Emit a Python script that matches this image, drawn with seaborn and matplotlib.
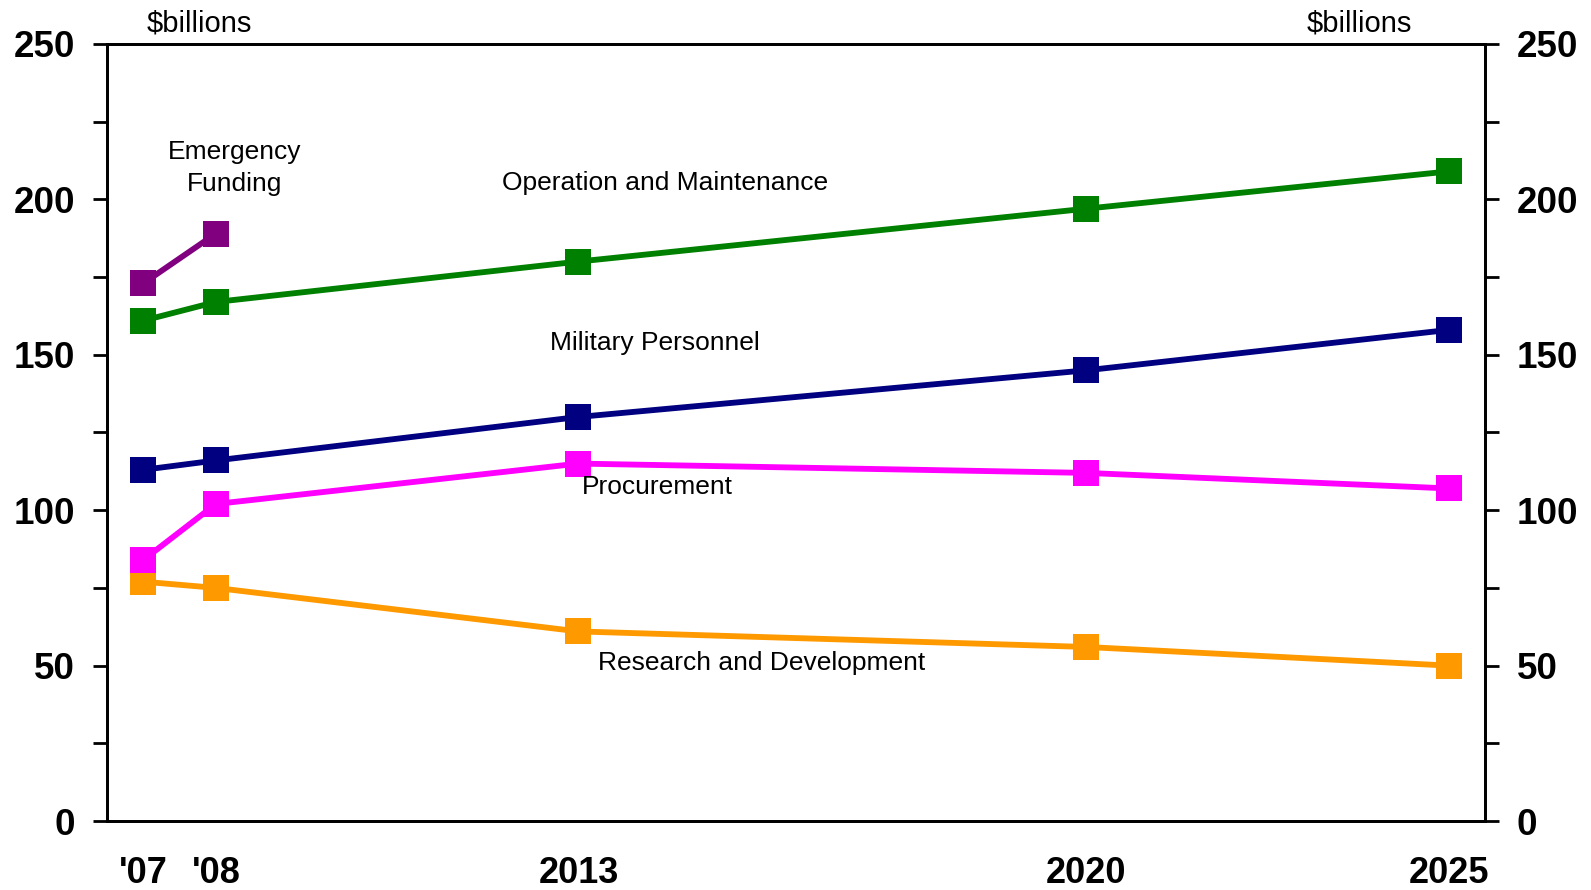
import matplotlib
matplotlib.use("Agg")
import matplotlib.pyplot as plt
import seaborn as sns
import numpy as np
from matplotlib.ticker import MultipleLocator

# Budget projections ($billions)
years = [2007, 2008, 2013, 2020, 2025]
year_labels = ["'07", "'08", "2013", "2020", "2025"]

emergency_years = [2007, 2008]
emergency = [173, 189]
operation_maintenance = [161, 167, 180, 197, 209]
military_personnel = [113, 116, 130, 145, 158]
procurement = [84, 102, 115, 112, 107]
research_development = [77, 75, 61, 56, 50]

sns.set_style("white")
plt.rcParams['font.family'] = ['Liberation Sans', 'DejaVu Sans']
plt.rcParams['text.color'] = 'black'
plt.rcParams['xtick.color'] = 'black'
plt.rcParams['ytick.color'] = 'black'

fig = plt.figure(figsize=(15.91, 8.90), dpi=100)
ax = fig.add_axes([0.0673, 0.0775, 0.8661, 0.8731])

series = [
    (years, research_development, '#FF9900'),
    (years, procurement, '#FF00FF'),
    (years, military_personnel, '#000080'),
    (years, operation_maintenance, '#008000'),
    (emergency_years, emergency, '#800080'),
]
for xs, ys, color in series:
    sns.lineplot(x=xs, y=ys, ax=ax, color=color, linewidth=4.2,
                 marker='s', markersize=18.5, markeredgewidth=0, clip_on=False)

ax.set_xlim(2006.5, 2025.5)
ax.set_ylim(0, 250)
ax.set_xticks(years)
ax.set_xticklabels(year_labels, fontsize=26, fontweight='bold')
ax.tick_params(axis='x', length=0, pad=25)
ax.yaxis.set_major_locator(MultipleLocator(50))
ax.yaxis.set_minor_locator(MultipleLocator(25))
ax.tick_params(axis='y', which='both', direction='out', length=10, width=2,
               labelsize=26.5, left=True, pad=13)
for lbl in ax.get_yticklabels():
    lbl.set_fontweight('bold')

ax2 = ax.twinx()
ax2.set_ylim(0, 250)
ax2.yaxis.set_major_locator(MultipleLocator(50))
ax2.yaxis.set_minor_locator(MultipleLocator(25))
ax2.tick_params(axis='y', which='both', direction='out', length=10, width=2,
                labelsize=26.5, right=True, pad=13)
for lbl in ax2.get_yticklabels():
    lbl.set_fontweight('bold')

for a in (ax, ax2):
    for s in a.spines.values():
        s.set_linewidth(2)
        s.set_color('black')
    a.grid(False)

ax.text(2007.77, 256.5, "$billions", fontsize=21, ha='center', va='center')
ax.text(2023.77, 256.5, "$billions", fontsize=21, ha='center', va='center')
ax.text(2008.26, 210.0, "Emergency\nFunding", fontsize=19, ha='center', va='center',
        linespacing=1.4)
ax.text(2014.19, 205.3, "Operation and Maintenance", fontsize=19, ha='center', va='center')
ax.text(2014.05, 153.8, "Military Personnel", fontsize=19, ha='center', va='center')
ax.text(2014.09, 107.5, "Procurement", fontsize=19, ha='center', va='center')
ax.text(2015.52, 50.8, "Research and Development", fontsize=19, ha='center', va='center')

fig.savefig("out.png", dpi=100)
plt.close(fig)
